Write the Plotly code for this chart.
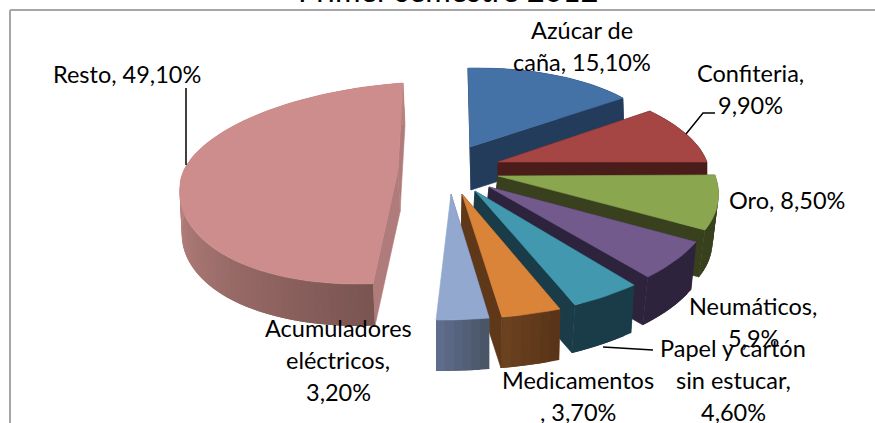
import numpy as np
import plotly.graph_objects as go

title = "Primer semestre 2012"
categories = ["Azúcar de caña", "Confiteria", "Oro", "Neumáticos",
              "Papel y cartón sin estucar", "Medicamentos",
              "Acumuladores eléctricos", "Resto"]
values = [15.1, 9.9, 8.5, 5.9, 4.6, 3.7, 3.2, 49.1]
label_lines = [["Azúcar de", "caña, 15,10%"], ["Confiteria,", "9,90%"], ["Oro, 8,50%"],
               ["Neumáticos,", "5,9%"], ["Papel y cartón", "sin estucar,", "4,60%"],
               ["Medicamentos", ", 3,70%"], ["Acumuladores", "eléctricos,", "3,20%"],
               ["Resto, 49,10%"]]

# ---- styling / projection of each exploded slice (pixel space of the 875x423 page)
top_colors = ["#4471a6", "#a54644", "#8aa64f", "#725a8d", "#4298ae", "#da8439", "#92a8cf", "#cd8d8c"]
cut_colors = ["#243c5c", "#4a1c1a", "#38401e", "#2e233c", "#1a3c48", "#5f3819", "#5e6d8c", "#b07c7b"]
side_from = ["#243c5c", "#4a1c1a", "#38401e", "#2e233c", "#1a3c48", "#5a3418", "#4a5568", "#7a5552"]
side_to = ["#243c5c", "#4a1c1a", "#38401e", "#2e233c", "#1a3c48", "#6b4220", "#5e6d8c", "#b9827f"]
# apex x, apex y, a, b, c, d, lower b, lower d, depth x, depth y
proj = [
    (470, 147, 189.7, -2.0, 3.6, 79.0, -2.0, 79.0, 1, 43),
    (498, 162, 209.0, -30.7, 0.0, 87.5, -30.7, 87.5, 0, 40),
    (498, 176, 217.0, -39.7, 1.0, 107.8, -39.7, 107.8, -6, 47),
    (489, 187, 225.9, -24.6, 7.1, 120.0, -24.6, 120.0, -5, 48),
    (475, 191, 242.7, -11.5, 7.8, 125.7, -11.5, 125.7, -3, 48),
    (462, 194, 259.5, -2.6, 2.5, 124.7, -2.6, 124.7, -1, 51),
    (451, 194, 264.3, 0.0, 4.5, 125.9, 0.0, 125.9, 0, 51),
    (398, 170, 218.0, 5.0, 15.0, 87.0, 12.7, 113.0, 2, 42),
]
label_centres = [(582, 30), (750, 73), (787, 200), (753, 306), (733, 348), (578, 380), (338, 328), (127, 74)]
LINE_STEP = 32
FONT = "Lato"
FONT_SIZE = 23.5


def rim(theta, p):
    ax, ay, a, b, c, d, b2, d2, _, _ = p
    s, co = np.sin(theta), np.cos(theta)
    bb = np.where(co >= 0, b, b2)
    dd = np.where(co >= 0, d, d2)
    return ax + a * s + bb * co, ay - (c * s + dd * co)


def mix(c1, c2, t):
    r1 = [int(c1[i:i + 2], 16) for i in (1, 3, 5)]
    r2 = [int(c2[i:i + 2], 16) for i in (1, 3, 5)]
    return "rgb(%d,%d,%d)" % tuple(round(u + (v - u) * t) for u, v in zip(r1, r2))


def poly(x, y, color, lw=0.6):
    return go.Scatter(x=list(x), y=list(y), mode="lines", fill="toself", fillcolor=color,
                      line=dict(color=color, width=lw), hoverinfo="skip", showlegend=False)


fig = go.Figure()
edges = np.cumsum([0] + values) / sum(values) * 2 * np.pi

for i, p in enumerate(proj):
    t0, t1 = edges[i], edges[i + 1]
    ax, ay, dx, dy = p[0], p[1], p[8], p[9]
    n = max(int((t1 - t0) / 0.035), 6)
    ts = np.linspace(t0, t1, n + 1)
    rx, ry = rim(ts, p)
    # start cut face
    fig.add_trace(poly([ax, rx[0], rx[0] + dx, ax + dx, ax], [ay, ry[0], ry[0] + dy, ay + dy, ay], cut_colors[i]))
    if i == 7:
        fig.add_trace(poly([ax, rx[n], rx[n] + dx, ax + dx, ax], [ay, ry[n], ry[n] + dy, ay + dy, ay], cut_colors[i]))
    # outer wall, shaded in overlapping strips along the rim
    for k in range(n):
        e = min(k + 2, n)
        col = mix(side_from[i], side_to[i], k / max(n - 1, 1) if i != 7 else min(k / (n * 0.5), 1))
        fig.add_trace(poly([rx[k], rx[e], rx[e] + dx, rx[k] + dx, rx[k]],
                           [ry[k], ry[e], ry[e] + dy, ry[k] + dy, ry[k]], col, 0))
    # end cut face, in front of the wall
    if i not in (6, 7):
        fig.add_trace(poly([ax, rx[n], rx[n] + dx, ax + dx, ax], [ay, ry[n], ry[n] + dy, ay + dy, ay], cut_colors[i]))
    # top face
    fig.add_trace(poly([ax, *rx, ax], [ay, *ry, ay], top_colors[i]))

annotations = [dict(xref="paper", yref="paper", x=448 / 875, y=1, yshift=-11, text=title, showarrow=False,
                    xanchor="center", yanchor="bottom",
                    font=dict(family=FONT, size=31, color="#000000"))]
for lines, (cx, cy) in zip(label_lines, label_centres):
    for j, line in enumerate(lines):
        annotations.append(dict(x=cx, y=cy + j * LINE_STEP, text=line, showarrow=False,
                                xanchor="center", yanchor="middle",
                                font=dict(family=FONT, size=FONT_SIZE, color="#000000")))

frame = dict(color="#a6a6a6", width=2)
leader = dict(color="#000000", width=1.5)
shapes = [
    dict(type="line", x0=10, y0=10, x1=875, y1=10, line=frame),
    dict(type="line", x0=10, y0=10, x1=10, y1=423, line=frame),
    dict(type="line", x0=186, y0=88, x1=186, y1=165, line=leader),
    dict(type="path", path="M 715 113 L 703 113 L 686 134", line=leader),
    dict(type="line", x0=653, y0=350, x1=603, y1=347, line=leader),
]

fig.update_layout(
    width=875, height=423, margin=dict(l=0, r=0, t=0, b=0),
    paper_bgcolor="white", plot_bgcolor="white", showlegend=False,
    xaxis=dict(range=[0, 875], visible=False, fixedrange=True),
    yaxis=dict(range=[423, 0], visible=False, fixedrange=True),
    annotations=annotations, shapes=shapes,
)
fig.write_html("out.html", config=dict(displayModeBar=False),
               post_script="document.body.style.margin='0';document.body.style.overflow='hidden';")
